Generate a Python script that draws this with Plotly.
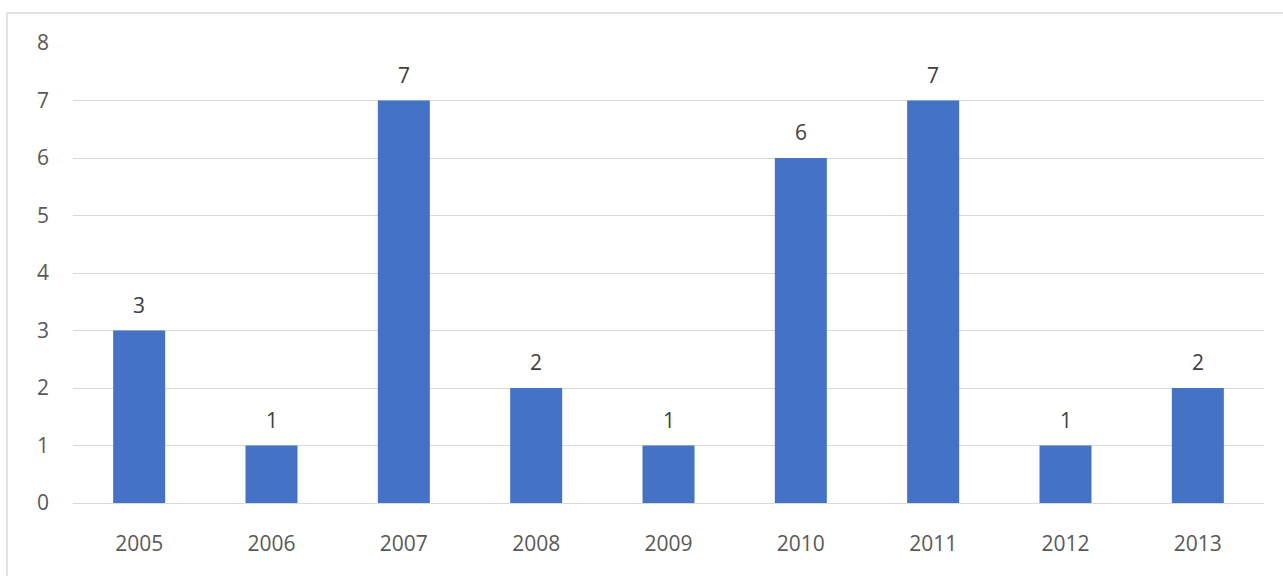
import plotly.graph_objects as go

# Yearly counts
years = ["2005", "2006", "2007", "2008", "2009", "2010", "2011", "2012", "2013"]
counts = [3, 1, 7, 2, 1, 6, 7, 1, 2]
y_ticks = [0, 1, 2, 3, 4, 5, 6, 7, 8]

W, H = 1283, 576
ML, MR, MT, MB = 73, 19, 43, 73
plot_w = W - ML - MR
plot_h = H - MT - MB
FONT = "Open Sans, Liberation Sans, sans-serif"

fig = go.Figure(
    go.Bar(
        x=years,
        y=counts,
        marker=dict(color="#4472C4", line=dict(width=0)),
        hoverinfo="x+y",
    )
)

# value labels above each bar (category axes place annotations by index)
for i, v in enumerate(counts):
    fig.add_annotation(
        x=i, y=v, text=str(v), showarrow=False,
        yanchor="bottom", yshift=10,
        font=dict(family=FONT, size=21, color="#404040"),
    )

# light chart-area frame (left and top edges)
fx0 = (7 - ML) / plot_w
fy1 = 1 + (MT - 13) / plot_h
fig.add_shape(type="line", xref="paper", yref="paper",
              x0=fx0, x1=fx0, y0=-1, y1=fy1,
              line=dict(color="#d9d9d9", width=1.5))
fig.add_shape(type="line", xref="paper", yref="paper",
              x0=fx0, x1=2, y0=fy1, y1=fy1,
              line=dict(color="#d9d9d9", width=1.5))

fig.update_layout(
    width=W, height=H,
    margin=dict(l=ML, r=MR, t=MT, b=MB),
    paper_bgcolor="white",
    plot_bgcolor="white",
    bargap=0.607,
    showlegend=False,
    font=dict(family=FONT, size=21, color="#595959"),
)
fig.update_xaxes(
    type="category",
    range=[-0.5, len(years) - 0.5],
    showgrid=False, showline=False, ticks="",
    tickfont=dict(size=21, color="#595959"),
    ticklabelstandoff=26,
)
fig.update_yaxes(
    range=[0, 8], tickvals=y_ticks,
    showgrid=True, gridcolor="#d9d9d9", gridwidth=1.3,
    zeroline=True, zerolinecolor="#d9d9d9", zerolinewidth=1.3,
    showline=False, ticks="",
    tickfont=dict(size=21, color="#595959"),
    ticklabelstandoff=23,
)

fig.write_html("out.html")
